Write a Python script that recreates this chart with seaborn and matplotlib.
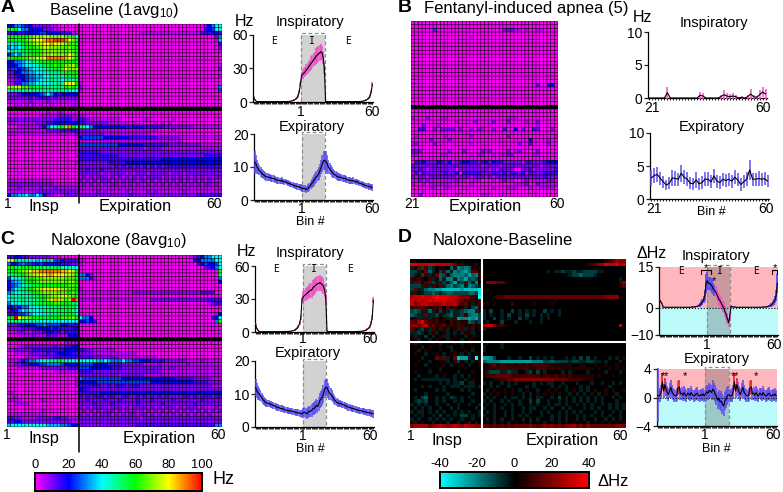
import numpy as np
import pandas as pd
import matplotlib
matplotlib.use('Agg')
import matplotlib.pyplot as plt
from matplotlib.colors import LinearSegmentedColormap
import seaborn as sns

W, H = 783, 492

# heatmap rows: each char is a rate in 5 Hz steps (base 21, 0..k)
a_top = [
 "44665342222211000000"+"0"*35+"24688",
 "cac86644442221100000"+"0"*35+"34588",
 "33433444455444433311"+"0"*17+"1"*17+"333443",
 "ccbcccdeeeffeeeeddc8"+"0"*38+"26",
 "ccbccdefgghiijjjigeb"+"0"*38+"17",
 "a8a9bcdeffgghggfeddb"+"0"*39+"3",
 "6878acccdeffeeeddedc"+"0"*39+"2",
 "8a8abbcccdeeeeeddedb"+"0"*39+"1",
 "4686abbccdeefeeedgec",
 "bcccddeeffgiiiiihgec",
 "4466789aaccccccccccb",
 "444678889abbcdcceefc"+"0"*39+"1",
 "35545678889aabbdgeef"+"0"*39+"2",
 "224466778899aaabbbcc",
 "223445667788a9aabbcb"+"0"*39+"1",
 "112345667888a988999a",
 "11336677888899a9gggc"+"1",
 "eeffddccbbaaaaaacdcb"+"20"+"0"*37+"6",
 "9a9a9a99a9999a9a9988"+"10"+"0"*37+"5",
 "22234444456864344444",
 "22222232333323222222",
 "11111121111211111111",
 "00110101010010000011",
]
a_bot = [
 "00000000000100110000",
 "00000000011111222211"+"1100",
 "22222222222223333322"+"3321111111110000011100000010000",
 "11111111222334444444"+"33222222111111010000010101000",
 "00011111124689aceica"+"a986444444444334443333332222222211111111",
 "11111111111222233333"+"2222221111111111111111000010000000000000",
 "11111111111111111112"+"2222222111111111111100000000000000000000",
 "00000000000000000001"+"4555555444444433333333222222111111111111",
 "00000000000000000000"+"1111111111111111111111111111100000000000",
 "00000000000000000001"+"5555555555544444443333333222222222111111",
 "00000000000000000000"+"2222222222222222221222211111111111111111",
 "00000000000000000000"+"3333332222222222222222222222222222222222",
 "00000000000000000001"+"3333333333322222222222222222222222233333",
 "00000000000000000000"+"3333333333333333333333344444444444444444",
 "00000000000000000001"+"2222222233333444444444444444444444444444",
 "00000000000000000000"+"2222222222323232323232323333333333333333",
 "00000000000000000000"+"2232223222222222222222222222222222222222",
 "00010000000000000000"+"2222221212222121222122222122212222222222",
 "00000000000000000000"+"1212122212121212121222212121212121212122",
 "11111111111110000000"+"2121212221212122122121212121212121212111",
 "22222222222221111111"+"1212121212212121211212121212121212122121",
 "11121111121112111111"+"1111111111111111111111111111111111111111",
 "11111111222222222222"+"1111121211111211111212111111121111111111",
 "46677866864221012222"+"2222222222222232222222222222222223333333",
]

b_top = [
 "0", "0",
 "0000005000000000000000000222110100110000",
 "0", "0000000000000000100000000000000000000000",
 "0", "0", "0", "0", "0", "0", "0", "0", "0", "0", "0", "0",
 "0000000000000000000000000000000000300440",
 "0", "0", "0", "0", "0",
]
b_bot = [
 "0",
 "0000000000000000000000000000000000000000",
 "1000200011000000000000000011100000000000",
 "0000000000001000020000200020000100200000",
 "0002000100000000000000000000000000100000",
 "0033002022220200202100200300402003200020",
 "0000000000000000000000000000000000000000",
 "0100000001000000200000000020000000000001",
 "0000020000200000000000000000000040000100",
 "1200002000000000100000000000020030000200",
 "0000000000000000000000000000000000000000",
 "2220000000200020000212000020120000200000",
 "1100000011000000101100101122000001100000",
 "0000000000000000000000000000000000000000",
 "0334222432412344332342433222221332223444",
 "2222222222222222222122221222222222212222",
 "2232122222220222222221213222002231222223",
 "1313222223224033333222332323323132223333",
 "2122122222221222122212122222222222223222",
 "1121211111112110111000101211001211111221",
 "1001011111101000100000000000111200211111",
 "0000011001100000000000100011100010011110",
 "0001000000000000000000000000000000000000",
 "0020000000001000000110001000000000000000",
]

c_top = [
 "33443322222211100000"+"0"*31+"123466888",
 "gfc9a9987877a5543333"+"11"+"0"*30+"44666688",
 "64456553454444433322"+"1"+"0"*32+"3454458",
 "ccbbcccbbbaaabb99988"+"0"*35+"23468",
 "cccdeeghhiiiiiihhgfc"+"0"*39+"c",
 "aaabcdeffgghhgggffeb"+"664200"+"0"*33+"a",
 "5889abccddeeeeeedddb"+"66631"+"0"*34+"6",
 "4677acccdeeeeeeedeec"+"0"*39+"4",
 "456799abbbcbcccccddc",
 "468aabcdefgggggeeddc"+"1",
 "67889abccdeeeedddcdc"+"11111111111111122222222222222222223333",
 "8a8a99aabbcdeefffeda",
 "8a8aa99aabcefhfedeki"+"1"*20+"2"*16+"3333",
 "689899aabbbccddccba9"+"0"*36+"1233",
 "44546688899aaabbbbb9",
 "3436878889aaaabbbc98",
 "334556788899aaabbbb8"+"0"*38+"14",
 "cckgeedccbbbbccdddec"+"8664"+"0"*33+"348",
 "aaaa9999988888888888"+"4454300"+"0"*31+"6c",
 "22233444556555544333",
 "22223333444434333344",
 "11122112223443323333",
 "00011112111322111444",
]
c_bot = [
 "00000000000000001111",
 "00011222222223223344",
 "11222223333333334444"+"3322111111000000000000000000000000000000",
 "00111122222323444433"+"2222111111111111000000000000000000000000",
 "00000111122223333333"+"3333222222211111111111000000000000000000",
 "1112456678889abb9988"+"8888977876668665544433332222221111211111",
 "11223344455666654444"+"5555444433332222221111211111112111111111",
 "00011111122222222333"+"5554444443332222222222211221111111111111",
 "00000000000001111111"+"3333222222222222222222211111111111111111",
 "00000000000000000000"+"2222222222212222221111111111111111111111",
 "00000000000000000001"+"6555555555554444444444444443333322222111",
 "00000000000000000001"+"4444455555555555555544444444444433332222",
 "00000000000000000001"+"3333332232333233322222222222222222222111",
 "00000000000000000000"+"4332222222222222222222222222222222222222",
 "11000000000000000001"+"3333334444444444444444444444444444444444",
 "01100000000000000000"+"3232333233223322323232323222233232333233",
 "11110000011000000000"+"2232222322232222322232222232222222322222",
 "00111100000000000000"+"2222322223222222322222232222222232222222",
 "00000000000000000000"+"2121222212221212222121212221212221211121",
 "00000000011000000000"+"1212121222121212121212121212121212121212",
 "11111111111000000000"+"2121212221212122122121212121212121212111",
 "33221111222223322111"+"2222222222222222212222222222222222222222",
 "33442222222222222211"+"2222222222222222222222222222222222222222",
 "78888888988777766544"+"2222222222222222333333333333333333333366",
]

# difference heatmap: digit = +5 Hz steps, letter a..h = -5 Hz steps
d_top = [
 "00000000000000000000"+"0"*34+"123544",
 "77666776666530210120"+"0"*28+"012345766756",
 "a13b2ba0110c2dcdc101",
 "bba13ca0b2cadcdec321"+"0"*18+"a0aabaabaabbbbaa",
 "ba1b2a13cb1cdddcecd2"+"0"*24+"abbcbbba",
 "212102a1caddadcebcb1"+"0"*36+"00a0",
 "a331a3baab2ceab3cad0"+"04443320"+"0"*30+"24",
 "bbba2a213acdbcdadcba"+"0"*38+"13",
 "b3aacddeefffffeffffg",
 "2a1abbcbabccbbbbccbg",
 "5667667877766544321h"+"00012233333333333333333333333333334444",
 "65656767676654321212"+"0"*20+"1",
 "64566554565564231a12"+"11010000200000100001",
 "223321223031201a0bc1",
 "bcb2aca1b1abaabcdd3a"+"a0b00a00b0a0a0a00b0a0a0",
 "cbaa3aab1abcaab2cddb"+"a0a00a0b00a0b0a0a0a00a",
 "12aaaa1201aa2eddedeb"+"a00b0a0a00b0a000a0a00",
 "3257321201021a11cbab"+"0a000b000a000a00a",
 "45356231231212211211"+"566422100000000000000000000000000000006",
 "31ab1a21a1a01a2a1a01"+"a0000",
 "aaba0a1a01a0a0a11a00",
 "1a10b0a012a0100a0110",
 "01a00a0100a100a01000",
]
d_bot = [
 "1a100010a00010a01000"+"0a000a00",
 "010a0100101a00100100"+"a0000a",
 "00a01000100a10010a00"+"a000",
 "0100a0010a0110a0a000",
 "000a0003a3a03feea0h0"+"eedb000a00a00b0a0a0a000a0a0b0b0a000a0a01",
 "00100a0011a01b0a0a01"+"cddddeeeeeeeeedddbbcbbbbabbaabbaa0a000a0",
 "0100a000010a0010a001"+"1123122121212122222111111001100100100100",
 "00000100a00000010000"+"1111222222122112221212111111111010010101",
 "01000a0010000a000100"+"1abbbaabaa00ab0b0a0000a0a0000a0000a000a0",
 "00a0000a0100a0a0a000"+"1222333322222222122121212111111010001000",
 "0a0aaaaaaaa0a00a0100"+"0001122334444444444433332222111000000000",
 "00000000a0a0aab0aa00"+"a0a00a0a0a0000a0a0aa00a000a000a00a00a0a0",
 "000a0a000a0aaa0aaa0a"+"00a0a00a0000a0a0000a0a0a000a0a00000a00",
 "0a00000a0a0000a0a000"+"0a01001010a0100a0010100a010a0a0100101001",
 "0000a00000a000000a00"+"a0101010100a0a0101010100a0a0a010a0101a00",
 "0a0bc00a0a0ba0a0a000"+"0a0a00a0aa0a0a0aa00a0b0a0a0a0a0a0a00a0a0",
 "0abab00a0a00a0a00a00"+"a0a00a0a00a00b0b00a00a0a0a0a0a0a0a000a00",
 "a0a0a00a00a00a00a00a"+"0a0a00a0a0a00a0a00a0aa0a00a0a0a00a0a0a0a",
 "0a0a0a00a00a0a0000a0"+"a00a0a00a00a0aa00a0a00a0a000a0a0a00a0a0a",
 "a0aa0a0a0a00a0a0a00a"+"0a0a00a0a00a0a00a0a00a0a0a0a000a0a00a0a0",
 "0a0a00a0b0a0a0bb0a0a"+"a00a00a0a0a0a000a00a0a0a00a0a0a00a0a00a0",
 "a0a00a0a0a0a00a00a00"+"0a0a0a00a00a0a0a000a0a0a00a0a00a00a0a0a0",
 "1a0100a010a00a01a0a0"+"010a010a01010a010a010a0101010a0101010101",
 "45555345654565465544"+"3323232323333432343434344534243333333444",
]

# traces: 40 expiratory bins + 20 inspiratory bins + 40 expiratory bins
a_ins_e = [.5,.3,.3,.3,.3,.3,.3,.3,.3,.3,.3,.3,.3,.3,.3,.3,.3,.3,.3,.3,
           .3,.3,.3,.3,.3,.3,.4,.4,.4,.5,.6,.8,1,1.3,1.8,2.6,3.6,5.5,9,16]
a_ins_i = [24,25,26,27,29,30,32,33,35,36,38,39,41,42,43,44,45,44,40,30]
a_ins_e_sd = [.3,.3,.3,.3,.2,.2,.2,.2,.2,.2,.2,.2,.2,.2,.2,.2,.2,.2,.2,.2,
              .2,.2,.2,.2,.2,.2,.2,.2,.3,.3,.3,.4,.5,.6,.8,1,1.3,1.6,2,2]
a_ins_i_sd = [3,4,4,4,5,5,5,5,6,6,6,6,7,7,7,7,7,6,6,5]
a_ins_start = [5,2,1]

a_exp_e = [11.5,11,10,9.5,9,8.5,8,7.8,7.5,7.2,7,7,6.8,6.9,6.6,6.5,6.6,6.3,6.1,6,
           6,5.9,5.8,5.9,5.6,5.5,5.6,5.3,5.1,5,4.9,4.7,4.6,4.4,4.3,4.2,4.1,4,3.9,3.7]
a_exp_i = [3.5,3.5,3.5,3.2,3.3,3.5,4,4.5,5,5.5,6,6.5,7,7.5,8,9,10,11,12,12]
a_exp_e_sd = [3.5,2.5,2,1.6,1.5,1.4,1.3,1.2,1.2,1.2,1.1,1.1,1,1.1,1,1,1,1,1,1,
              1,.9,.9,1,.9,.9,.9,.9,.9,.9,.9,.9,.9,.9,.9,.9,1,1,1,1.1]
a_exp_i_sd = [1,1,1,1,1,1.2,1.2,1.3,1.5,1.5,1.7,1.7,1.8,1.8,2,2,2.2,2.6,3,3]

c_ins_e = [.8,.4,.3,.3,.3,.3,.3,.3,.3,.3,.3,.3,.3,.3,.3,.3,.3,.3,.3,.3,
           .3,.3,.3,.3,.4,.4,.5,.5,.6,.7,.8,1,1.3,1.8,2.5,3.5,5,8,13,29]
c_ins_i = [32,33,34,35,36,37,38,38,40,41,42,43,44,44,45,44,43,42,38,30]
c_ins_e_sd = [1,.5,.3,.3,.2,.2,.2,.2,.2,.2,.2,.2,.2,.2,.2,.2,.2,.2,.2,.2,
              .2,.2,.2,.2,.2,.3,.3,.3,.3,.4,.4,.5,.6,.8,1,1.2,1.5,2,2.5,3]
c_ins_i_sd = [5,5,6,6,6,6,7,7,7,7,7,7,7,7,7,7,7,7,6,5]
c_ins_start = [7,3,1.5]

c_exp_e = [12,11,10.3,10,9.5,9,8.3,8,7.5,7.3,7.2,7.1,7,6.8,6.7,6.5,6.4,6.2,6,6,
           5.8,5.6,5.6,5.5,5.3,5.2,5.1,5,4.9,4.9,4.8,4.7,4.6,4.5,4.4,4.3,4.3,4.2,4.1,4]
c_exp_i = [4.3,4.5,4.2,4,4.4,4.8,4.7,5,5.5,5.5,6,6.5,6.2,7,8,8.5,9,10,11.5,12]
c_exp_e_sd = [2.5,2.2,2,1.8,1.6,1.4,1.3,1.2,1.2,1.1,1.1,1.1,1,1,1,1,1,1,1,1,
              1,1,1,1,1,1,1,1,1,1,1,1,1,1,1.1,1.1,1.1,1.1,1.2,1.2]
c_exp_i_sd = [1.4,1.5,1.5,1.6,1.7,1.7,1.8,1.9,1.9,2,2,2,2,2.2,2.2,2.3,2.4,2.6,2.6,2.6]

b_ins = [0,0,0,0,0,0,.8,0,0,0,0,0,0,0,0,0,0,.4,.3,0,
         0,0,0,0,.2,.5,.3,.2,.3,.2,0,.1,0,.2,.6,.2,.1,.5,.9,.6]
b_ins_sd = [0,0,0,0,0,0,.9,0,0,0,0,0,0,0,0,0,0,.5,.4,0,
            0,0,0,0,.3,.7,.5,.4,.4,.3,0,.2,0,.3,.8,.3,.2,.7,.7,.7]
b_exp = [3.2,3.6,3.7,3.1,2.6,2.1,2.4,3.2,3.1,3,3.9,3.3,3,2.4,2.3,2.9,2.3,2.5,3,3,
         2.6,3.5,2.7,2.5,3,2.8,3,2.7,3.3,2.9,2.2,2.6,3,4.4,3,3,3.1,3,3.1,2.7]
b_exp_sd = [1.2,1.1,1.1,1,.9,.8,.9,1.2,1.1,1,1.3,1.1,1.1,.9,.9,1.2,.9,1,1.1,1.1,
            1,1.1,1,1,1,1,1,1,1.1,1,1,1,1.1,1.5,1,1,1.1,1,1,.9]

d_ins_e = [.6,.4,.3,.3,.2,.2,.2,.2,.2,.2,.2,.2,.2,.2,.2,.2,.2,.2,.2,.2,
           .2,.2,.2,.2,.2,.2,.2,.3,.3,.3,.4,.5,.6,.8,1.1,1.6,2.2,3,4.5,9]
d_ins_i = [10,9,9,8.5,8,7,6.5,6,5,4,3,2.5,1.5,.5,0,-1.5,-2.5,-4,-5.5,-3]
d_ins_e_sd = [.4,.3,.2,.2,.2,.2,.2,.2,.2,.2,.2,.2,.2,.2,.2,.2,.2,.2,.2,.2,
              .2,.2,.2,.2,.2,.2,.2,.2,.2,.3,.3,.3,.4,.5,.7,.8,1,1.3,2,3.5]
d_ins_i_sd = [3,2.5,2.5,2.5,2.5,2,2,2,2,2,2,2,2,2,2,2,2,2,1.5,1]
d_ins_start = [3,2.2,1.5]
d_ins_sig_bins = [34,35,36,37,38,39,40,41,42,43,44,45,46,94,95,96,97,98,99]

d_exp_e = [.3,.2,.3,.8,2.2,.9,1.8,1.2,.7,.4,1,1.4,.8,.5,.3,.2,.4,1.3,1.5,.5,
           .6,.3,.7,.4,.2,.6,.5,.3,.7,.4,.2,.3,.5,.6,.3,.2,.4,.3,.5,.2]
d_exp_i = [.5,.8,.6,1,.9,.7,1.2,.9,.5,.2,-.4,-.1,-.6,-.5,-.9,-1.2,-.5,-.2,.2,.4]
d_exp_e_sd = [.9,.9,1,1,1.2,1,1,1,.9,.9,1,1,.9,.9,.9,.8,.9,1,1,.9,
              .9,.8,.9,.9,.8,.8,.9,.8,.9,.8,.8,.8,.8,.9,.8,.8,.8,.8,.8,.8]
d_exp_i_sd = [1,1,1,1,1,1,1.2,1.2,1.2,1.2,1.2,1.2,1.2,1.4,1.4,1.4,1.3,1.3,1.3,1.2]
d_exp_first_sd = [3.8]
d_exp_sig_bins = [4,6,18,64,66,78]

rate_ticks = [0, 20, 40, 60, 80, 100]
diff_ticks = [-40, -20, 0, 20, 40]

sns.set_theme(style='ticks')
plt.rcParams['font.family'] = ['Liberation Sans', 'DejaVu Sans']
plt.rcParams['mathtext.default'] = 'regular'

rate_cmap = LinearSegmentedColormap.from_list('rate', ['#ff00ff', '#0000ff', '#00ffff', '#00ff00', '#ffff00', '#ff0000'])
diff_cmap = LinearSegmentedColormap.from_list('diff', ['#00ffff', '#000000', '#ff0000'])
PINK = '#f050c8'
BLUE = '#5a50f0'


def rates(rows, n):
    return [[int(c, 21) * 5 for c in r.ljust(n, '0')[:n]] for r in rows]


def diffs(rows, n):
    out = []
    for r in rows:
        r = r.ljust(n, '0')[:n]
        out.append([-5 * (ord(c) - 96) if c.isalpha() else 5 * int(c) for c in r])
    return out


def box(x0, y0, x1, y1):
    return fig.add_axes([x0 / W, 1 - y1 / H, (x1 - x0) / W, (y1 - y0) / H])


def txt(x, y, s, size=10, ha='center', **kw):
    fig.text(x / W, 1 - y / H, s, fontsize=size, ha=ha, va='center', color='black', **kw)


def vline(x, y0, y1):
    fig.add_artist(plt.Line2D([x / W, x / W], [1 - y0 / H, 1 - y1 / H], color='black', lw=1.1))


def rate_map(top, bot, n, pos, **kw):
    grid = rates(top, n) + [[np.nan] * n] + rates(bot, n)
    ax = box(*pos)
    ax.set_facecolor('black')
    sns.heatmap(pd.DataFrame(grid), ax=ax, cmap=rate_cmap, vmin=0, vmax=100, cbar=False,
                xticklabels=False, yticklabels=False, **kw)
    # thin cell outlines, unsnapped so the spacing stays even
    ax.hlines(range(len(grid) + 1), 0, n, color='black', lw=0.42, snap=False)
    ax.vlines(range(n + 1), 0, len(grid), color='black', lw=0.42, snap=False)
    return ax


def trace(pos, x_end, y, sd, ylim, yticks, band, xticks, xlabels, color=PINK, sig=None, sig_color=BLUE, bg=False, pad=1):
    ax = box(*pos)
    x = np.arange(len(y)) + 0.5
    y = np.array(y)
    sd = np.array(sd)
    if bg:
        ax.axhspan(0, ylim[1], color='#ffb6bd', lw=0, zorder=0)
        ax.axhspan(ylim[0], 0, color='#bdfafa', lw=0, zorder=0)
    if band is not None:
        face = '#555555' if bg else '#d2d2d2'
        ax.axvspan(band[0], band[1], facecolor=face, alpha=0.3 if bg else 1, lw=0, zorder=1)
        ax.axvspan(band[0], band[1], ymax=1.03, fill=False, edgecolor='#8c8c8c', ls=(0, (3, 2)), lw=0.9, zorder=2, clip_on=False)
    ax.vlines(x, y - sd, y + sd, color=color, lw=1.1, zorder=3, clip_on=False)
    if sig is not None:
        ax.vlines(x[sig], (y - sd)[sig], (y + sd)[sig], color=sig_color, lw=1.3, zorder=3, clip_on=False)
    sns.lineplot(x=x, y=y, ax=ax, color='black', lw=0.8, zorder=4, errorbar=None)
    ax.set_xlim(0, x_end)
    ax.set_ylim(*ylim)
    ax.set_yticks(yticks)
    ax.set_xticks(xticks)
    ax.set_xticklabels(xlabels)
    ax.set_xticks(x, minor=True)
    ax.tick_params(axis='x', which='minor', length=1.2, width=0.6, color='black')
    ax.tick_params(axis='x', which='major', length=1.2, width=0.6, pad=pad, labelsize=10, labelcolor='black')
    ax.tick_params(axis='y', length=3, width=0.9, pad=1, labelsize=10, labelcolor='black')
    ax.set_xlabel('')
    ax.set_ylabel('')
    ax.patch.set_alpha(0)
    for s in ['left', 'bottom']:
        ax.spines[s].set_linewidth(0.9)
        ax.spines[s].set_color('black')
    sns.despine(ax=ax)
    return ax


fig = plt.figure(figsize=(W / 100, H / 100), dpi=100)

# A
txt(8, 7, 'A', 14, weight='bold')
txt(114, 11, 'Baseline (1avg$_{10}$)', 12)
rate_map(a_top, a_bot, 60, (7, 24, 222, 197))
vline(78.5, 24, 203)
txt(8, 204, '1', 10)
txt(44, 207, 'Insp', 11.8)
txt(135, 207, 'Expiration', 11.8)
txt(214, 204, '60', 10)

txt(244, 22, 'Hz', 11.5)
txt(310, 22, 'Inspiratory', 10.5)
trace((253, 35, 373, 102), 100, a_ins_start + a_ins_e[3:] + a_ins_i + a_ins_e, a_ins_e_sd + a_ins_i_sd + a_ins_e_sd,
      (0, 60), [0, 30, 60], (40, 60), [40, 99], ['1', '60'])
for xp, s in [(274, 'E'), (312, 'I'), (348, 'E')]:
    txt(xp, 41, s, 7, family='DejaVu Sans Mono')
txt(312, 127, 'Expiratory', 10.5)
trace((254, 134, 373, 200), 100, a_exp_e + a_exp_i + a_exp_e, a_exp_e_sd + a_exp_i_sd + a_exp_e_sd,
      (0, 20), [0, 10, 20], (40, 60), [40, 99], ['1', '60'], color=BLUE, pad=0)
txt(310, 222, 'Bin #', 9)

# B
txt(405, 7, 'B', 14, weight='bold')
txt(424, 9, 'Fentanyl-induced apnea (5)', 12, ha='left')
rate_map(b_top, b_bot, 40, (411, 21, 558, 197))
txt(412, 204, '21', 10)
txt(485, 207, 'Expiration', 11.8)
txt(557, 204, '60', 10)

txt(642, 17, 'Hz', 11.5)
txt(714, 23, 'Inspiratory', 10.5)
trace((648, 32, 767, 98), 40, b_ins, b_ins_sd, (0, 10), [0, 5, 10], None, [1.5, 38.5], ['21', '60'])
txt(712, 127, 'Expiratory', 10.5)
trace((650, 133, 769, 199), 40, b_exp, b_exp_sd, (0, 10), [0, 5, 10], None, [1.5, 39], ['21', '60'], color=BLUE)
txt(711, 212, 'Bin #', 9)

# C
txt(7, 239, 'C', 14, weight='bold')
txt(118, 241, 'Naloxone (8avg$_{10}$)', 12)
rate_map(c_top, c_bot, 60, (7, 255, 222, 427))
vline(78.5, 255, 452)
txt(7, 435, '1', 10)
txt(44, 438, 'Insp', 11.8)
txt(159, 439, 'Expiration', 11.8)
txt(218, 435, '60', 10)

cax = box(35, 473, 202, 491)
hm = sns.heatmap(pd.DataFrame(rates(c_bot[:1], 60)), ax=box(0, 0, 0.1, 0.1), cmap=rate_cmap, vmin=0, vmax=100,
                 cbar_ax=cax, cbar_kws={'orientation': 'horizontal', 'ticks': rate_ticks})
hm.set_visible(False)
cax.xaxis.set_ticks_position('top')
cax.tick_params(length=2, width=0.8, direction='in', pad=1.5, labelsize=9.3, labelcolor='black', color='black')
for sp in cax.spines.values():
    sp.set_visible(True)
    sp.set_linewidth(1.4)
    sp.set_color('black')
txt(224, 479, 'Hz', 13)

txt(246, 251, 'Hz', 11.5)
txt(310, 253, 'Inspiratory', 10.5)
trace((255, 266, 374, 332), 100, c_ins_start + c_ins_e[3:] + c_ins_i + c_ins_e, c_ins_e_sd + c_ins_i_sd + c_ins_e_sd,
      (0, 60), [0, 30, 60], (40, 60), [40, 97], ['1', '60'], pad=-1)
for xp, s in [(276, 'E'), (314, 'I'), (350, 'E')]:
    txt(xp, 269, s, 7, family='DejaVu Sans Mono')
txt(308, 352.5, 'Expiratory', 10.5)
trace((255, 361, 374, 427), 100, c_exp_e + c_exp_i + c_exp_e, c_exp_e_sd + c_exp_i_sd + c_exp_e_sd,
      (0, 20), [0, 10, 20], (40, 60), [40, 97], ['1', '60'], color=BLUE, pad=0)
txt(310, 449, 'Bin #', 9)

# D
txt(405, 238, 'D', 14, weight='bold')
txt(433, 241, 'Naloxone-Baseline', 12, ha='left')
dax = box(410, 259, 626, 428)
dax.set_facecolor('black')
sns.heatmap(pd.DataFrame(diffs(d_top, 60) + diffs(d_bot, 60)), ax=dax, cmap=diff_cmap, vmin=-40, vmax=40, cbar=False,
            xticklabels=False, yticklabels=False)
dax.axvline(20, color='white', lw=1.5)
dax.axhline(23, color='white', lw=1.5)
txt(411, 436, '1', 10)
txt(447, 440, 'Insp', 11.8)
txt(562, 440, 'Expiration', 11.8)
txt(620, 436, '60', 10)

cax2 = box(440, 472, 589, 488)
hm2 = sns.heatmap(pd.DataFrame(diffs(d_bot[:1], 60)), ax=box(0, 0, 0.1, 0.1), cmap=diff_cmap, vmin=-40, vmax=40,
                  cbar_ax=cax2, cbar_kws={'orientation': 'horizontal', 'ticks': diff_ticks})
hm2.set_visible(False)
cax2.xaxis.set_ticks_position('top')
cax2.tick_params(length=2, width=0.8, direction='in', pad=1.5, labelsize=9.3, labelcolor='black', color='black')
cax2.set_xticklabels(['-40', '-20', '0', '20', '40'])
for sp in cax2.spines.values():
    sp.set_visible(True)
    sp.set_linewidth(1.2)
    sp.set_color('black')
txt(613, 482, 'ΔHz', 12)

txt(652, 253, 'ΔHz', 11.5)
txt(716, 256, 'Inspiratory', 10.5)
ax = trace((659, 267, 778, 335), 100, d_ins_start + d_ins_e[3:] + d_ins_i + d_ins_e, d_ins_e_sd + d_ins_i_sd + d_ins_e_sd,
           (-10, 15), [-10, 0, 15], (40, 60), [40, 97], ['1', '60'], sig=d_ins_sig_bins, bg=True)
ax.axhline(0, color='black', lw=0.8, ls=':', zorder=5)
for xp, s in [(681, 'E'), (720, 'I'), (756, 'E')]:
    txt(xp, 271, s, 7, family='DejaVu Sans Mono')
ax.plot([35, 35, 44, 44], [12.5, 14, 14, 12.5], color='black', lw=0.8, zorder=5)
ax.plot([95, 95, 99.5, 99.5], [12.5, 14, 14, 12.5], color='black', lw=0.8, zorder=5)
txt(706, 268, '*', 8)
txt(714, 281, '*', 8)
txt(775, 268, '*', 8)

txt(717, 358.5, 'Expiratory', 10.5)
ax = trace((657, 369, 777, 426), 100, d_exp_e + d_exp_i + d_exp_e, d_exp_first_sd + d_exp_e_sd[1:] + d_exp_i_sd + d_exp_e_sd,
           (-4, 4), [-4, 0, 4], (40, 60), [40, 97], ['1', '60'], color=BLUE, sig=d_exp_sig_bins, sig_color='#f03030', bg=True, pad=0)
ax.axhline(0, color='black', lw=0.7, ls=':', zorder=5)
for xp in [663, 666, 685, 733, 736, 756]:
    txt(xp, 376, '*', 8)
txt(716, 449, 'Bin #', 9)

fig.savefig('out.png', dpi=100)
